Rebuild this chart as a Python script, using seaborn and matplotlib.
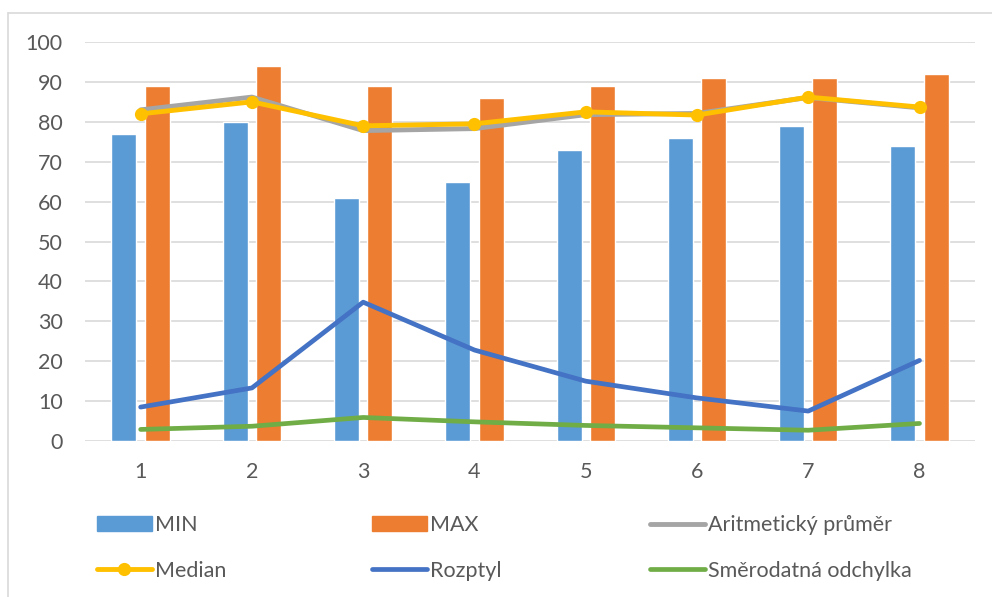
import numpy as np
import pandas as pd
import matplotlib.pyplot as plt
import seaborn as sns
from matplotlib.patches import Patch
from matplotlib.lines import Line2D

categories = ['1', '2', '3', '4', '5', '6', '7', '8']
min_vals = [77, 80, 61, 65, 73, 76, 79, 74]
max_vals = [89, 94, 89, 86, 89, 91, 91, 92]
mean_vals = [83, 86.2, 77.8, 78.3, 81.8, 82.1, 86.1, 83.5]
median_vals = [82, 85, 79, 79.5, 82.5, 81.7, 86.2, 83.7]
var_vals = [8.5, 13.3, 34.8, 22.8, 15, 10.8, 7.5, 20.2]
std_vals = [2.9, 3.7, 5.9, 4.8, 3.9, 3.3, 2.7, 4.4]

sns.set_style('white')
plt.rcParams['font.family'] = ['Lato', 'DejaVu Sans']

c_min = '#5B9BD5'
c_max = '#ED7D31'
c_mean = '#A5A5A5'
c_med = '#FFC000'
c_var = '#4472C4'
c_std = '#70AD47'

bars = pd.DataFrame({
    'cat': categories * 2,
    'value': min_vals + max_vals,
    'series': ['MIN'] * 8 + ['MAX'] * 8,
})

fig = plt.figure(figsize=(9.92, 5.97), dpi=100)
ax = fig.add_axes([0.0857, 0.2613, 0.8973, 0.6683])

sns.barplot(data=bars, x='cat', y='value', hue='series', palette=[c_min, c_max],
            width=0.6, gap=0.25, saturation=1, legend=False, ax=ax, zorder=2)

pos = np.arange(len(categories))
sns.lineplot(x=pos, y=mean_vals, color=c_mean, linewidth=3.5, ax=ax, zorder=3)
sns.lineplot(x=pos, y=median_vals, color=c_med, linewidth=3.5, marker='o',
             markersize=9.5, markeredgewidth=0, ax=ax, zorder=4)
sns.lineplot(x=pos, y=var_vals, color=c_var, linewidth=3.4, ax=ax, zorder=3)
sns.lineplot(x=pos, y=std_vals, color=c_std, linewidth=3.4, ax=ax, zorder=3)

ax.set_xlim(-0.5, 7.5)
ax.set_ylim(0, 100)
ax.set_yticks(range(0, 101, 10))
ax.yaxis.grid(True, color='#d9d9d9', linewidth=1.2, zorder=0)
ax.set_axisbelow(True)
for s in ax.spines.values():
    s.set_visible(False)
ax.tick_params(axis='y', length=0, labelsize=15.5, labelcolor='#595959', pad=16)
ax.tick_params(axis='x', length=0, labelsize=15.5, labelcolor='#595959', pad=15)
ax.set_xlabel('')
ax.set_ylabel('')

# legend: three columns, two rows
cols = [
    [Patch(color=c_min, label='MIN'),
     Line2D([], [], color=c_med, lw=3.5, marker='o', ms=9.5, mew=0, label='Median')],
    [Patch(color=c_max, label='MAX'),
     Line2D([], [], color=c_var, lw=3.4, label='Rozptyl')],
    [Line2D([], [], color=c_mean, lw=3.5, label='Aritmetický průměr'),
     Line2D([], [], color=c_std, lw=3.4, label='Směrodatná odchylka')],
]
for x0, hs in zip([97, 372, 650], cols):
    leg = fig.legend(handles=hs, loc='upper left', bbox_to_anchor=(x0 / 992, 1 - 515 / 597),
                     frameon=False, fontsize=15.5, labelcolor='#595959',
                     handlelength=2.55, handleheight=0.65, handletextpad=0.15,
                     labelspacing=1.2, borderpad=0, borderaxespad=0)

# light frame on the left and top edge
fig.add_artist(Line2D([8 / 992, 8 / 992], [0, 1 - 13 / 597], transform=fig.transFigure,
                      color='#d9d9d9', linewidth=1.2))
fig.add_artist(Line2D([8 / 992, 1], [1 - 13 / 597, 1 - 13 / 597], transform=fig.transFigure,
                      color='#d9d9d9', linewidth=1.2))

fig.savefig('out.png', dpi=100)
